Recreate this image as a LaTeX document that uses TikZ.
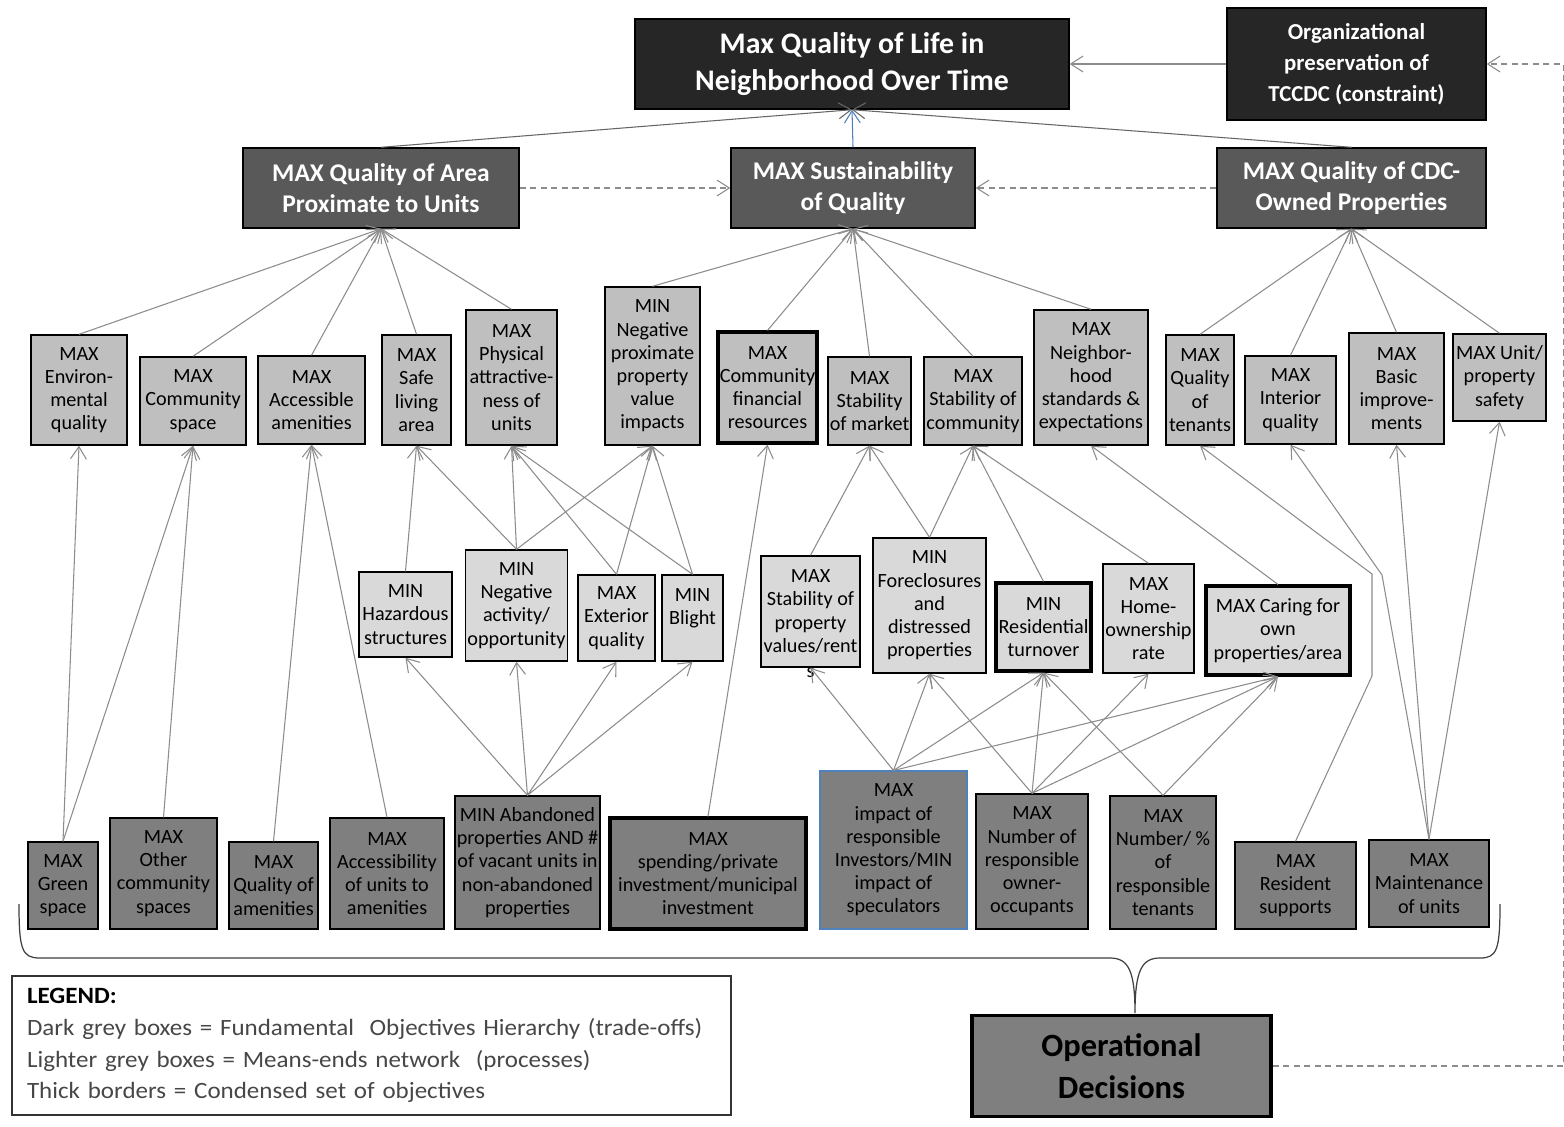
\documentclass[tikz,border=0pt]{standalone}
\usepackage{fontspec}
\setmainfont{Carlito}
\usepackage{xcolor}
\usepackage{tikz}
\usetikzlibrary{arrows.meta}
\definecolor{nearBlack}{HTML}{262626}
\definecolor{darkGrey}{HTML}{595959}
\definecolor{midGrey}{HTML}{BFBFBF}
\definecolor{lightGrey}{HTML}{D9D9D9}
\definecolor{fundGrey}{HTML}{7F7F7F}
\definecolor{linkGrey}{HTML}{8C8C8C}
\definecolor{officeBlue}{HTML}{4F81BD}
\tikzset{wh/.style 2 args={minimum width=#1*0.02cm, minimum height=#2*0.02cm}}
\tikzstyle{anyBox}=[draw, rectangle, align=center, inner sep=1pt, line width=0.8pt, font=\fontsize{11.5}{13.2}\selectfont]
\tikzstyle{objBox}=[anyBox, fill=midGrey]
\tikzstyle{meansBox}=[anyBox, fill=lightGrey]
\tikzstyle{fundBox}=[anyBox, fill=fundGrey]
\tikzstyle{thickBorder}=[line width=1.8pt]
\tikzstyle{topBox}=[draw, rectangle, align=center, inner sep=1pt, fill=nearBlack, text=white, line width=0.8pt, font=\bfseries\fontsize{17}{21.5}\selectfont]
\tikzstyle{midBox}=[draw, rectangle, align=center, inner sep=1pt, fill=darkGrey, text=white, line width=0.8pt, font=\bfseries\fontsize{14.5}{17.6}\selectfont]
\tikzstyle{linkArrow}=[-{Straight Barb[length=7pt,width=9pt]}, draw=linkGrey, line width=0.6pt]
\tikzstyle{dashArrow}=[linkArrow, dash pattern=on 3.5pt off 2.5pt]

\begin{document}
\begin{tikzpicture}[x=0.02cm, y=-0.02cm]

    \useasboundingbox[fill=white] (0,0) rectangle (1564,1126);

    % nodes

    \node[topBox, wh={434}{90}] (top) at (852,64) {Max Quality of Life in\\Neighborhood Over Time};
    \node[topBox, wh={259}{112}, font=\bfseries\fontsize{13}{17.6}\selectfont] (org) at (1356.5,64) {Organizational\\preservation of\\TCCDC (constraint)};

    \node[midBox, wh={276}{80}] (area) at (381,188) {MAX Quality of Area\\Proximate to Units};
    \node[midBox, wh={244}{80}] (sust) at (853,188) {MAX Sustainability\\of Quality};
    \node[midBox, wh={269}{80}] (cdc) at (1351.5,188) {MAX Quality of CDC-\\Owned Properties};

    \node[objBox, wh={96}{110}] (env) at (79,390) {MAX\\Environ-\\mental\\quality};
    \node[objBox, wh={106}{88}] (comm) at (193,401) {MAX\\Community\\space};
    \node[objBox, wh={107}{88}] (acc) at (311.5,400) {MAX\\Accessible\\amenities};
    \node[objBox, wh={69}{110}] (safe) at (416.5,390) {MAX\\Safe\\living\\area};
    \node[objBox, wh={91}{135}] (phys) at (511.5,377.5) {MAX\\Physical\\attractive-\\ness of\\units};
    \node[objBox, wh={95}{158}] (negprox) at (652.5,366) {MIN\\Negative\\proximate\\property\\value\\impacts};
    \node[objBox, thickBorder, wh={97}{111}] (fin) at (767.5,387.5) {MAX\\Community\\financial\\resources};
    \node[objBox, wh={83}{88}] (mkt) at (869.5,401) {MAX\\Stability\\of market};
    \node[objBox, wh={98}{88}] (stabc) at (973,401) {MAX\\Stability of\\community};
    \node[objBox, wh={114}{135}] (nbh) at (1091,377.5) {MAX\\Neighbor-\\hood\\standards \&\\expectations};
    \node[objBox, wh={68}{110}] (ten) at (1200,390) {MAX\\Quality\\of\\tenants};
    \node[objBox, wh={91}{88}] (int) at (1290.5,400) {MAX\\Interior\\quality};
    \node[objBox, wh={95}{111}] (basic) at (1396.5,388.5) {MAX\\Basic\\improve-\\ments};
    \node[objBox, wh={93}{87}] (usafe) at (1499.5,377.5) {MAX Unit/\\property\\safety};

    \node[meansBox, wh={93}{85}] (haz) at (405.5,614.5) {MIN\\Hazardous\\structures};
    \node[meansBox, wh={101}{111}] (nega) at (516.5,605.5) {MIN\\Negative\\activity/\\opportunity};
    \node[meansBox, wh={77}{86}] (ext) at (616.5,618) {MAX\\Exterior\\quality};
    \node[meansBox, wh={61}{86}] (blight) at (692.5,618) {MIN\\Blight\\ };
    \node[meansBox, wh={99}{111}, label={[inner sep=0pt, font=\fontsize{11.5}{13.2}\selectfont]below:s}] (spv) at (810.5,611.5) {MAX\\Stability of\\property\\values/rent};
    \node[meansBox, wh={113}{135}] (fore) at (929.5,605.5) {MIN\\Foreclosures\\and\\distressed\\properties};
    \node[meansBox, thickBorder, wh={95}{88}] (turn) at (1043.5,627) {MIN\\Residential\\turnover};
    \node[meansBox, wh={91}{109}] (home) at (1148.5,618.5) {MAX\\Home-\\ownership\\rate};
    \node[meansBox, thickBorder, wh={144}{89}] (caring) at (1278,630.5) {MAX Caring for\\own\\properties/area};

    \node[fundBox, wh={70}{87}] (green) at (63,885.5) {MAX\\Green\\space};
    \node[fundBox, wh={107}{111}] (other) at (163.5,873.5) {MAX\\Other\\community\\spaces};
    \node[fundBox, wh={89}{87}] (qam) at (273.5,885.5) {MAX\\Quality of\\amenities};
    \node[fundBox, wh={114}{111}] (accu) at (387,873.5) {MAX\\Accessibility\\of units to\\amenities};
    \node[fundBox, wh={145}{133}] (aband) at (527.5,862.5) {MIN Abandoned\\properties AND \#\\of vacant units in\\non-abandoned\\properties};
    \node[fundBox, thickBorder, wh={196}{111}] (spend) at (708,873.5) {MAX\\spending/private\\investment/municipal\\investment};
    \node[fundBox, draw=officeBlue, line width=0.6pt, wh={147}{158}] (invest) at (893.5,850) {MAX\\impact of\\responsible\\Investors/MIN\\impact of\\speculators};
    \node[fundBox, wh={112}{135}] (owner) at (1032,861.5) {MAX\\Number of\\responsible\\owner-\\occupants};
    \node[fundBox, wh={106}{133}] (tenants) at (1163,862.5) {MAX\\Number/ \%\\of\\responsible\\tenants};
    \node[fundBox, wh={121}{87}] (resid) at (1295.5,885.5) {MAX\\Resident\\supports};
    \node[fundBox, wh={120}{87}] (maint) at (1429,883.5) {MAX\\Maintenance\\of units};

    \node[fundBox, thickBorder, wh={299}{101}, font=\bfseries\fontsize{18.5}{24}\selectfont] (oper) at (1121.5,1066) {Operational\\Decisions};

    \node[draw=black!80, line width=0.6pt, wh={719}{139}, text width=13.78cm, align=left, inner sep=0pt, text=black!72, font=\fontsize{13.3}{18.1}\selectfont\addfontfeature{FakeStretch=1.07}] (legend) at (371.5,1045.5) {\textcolor{black}{\bfseries LEGEND:}\\Dark grey boxes = Fundamental\ \ Objectives Hierarchy (trade-offs)\\Lighter grey boxes = Means-ends network\ \ (processes)\\Thick borders = Condensed set of objectives};

    % transition

    \draw[linkArrow, draw=black!60] (area.north) -- (top.south);
    \draw[linkArrow, draw=officeBlue] (sust.north) -- (top.south);
    \draw[linkArrow, draw=black!60] (cdc.north) -- (top.south);
    \draw[linkArrow] (org.west) -- (top.east);
    \draw[dashArrow] (area.east) -- (sust.west);
    \draw[dashArrow] (cdc.west) -- (sust.east);
    \draw[dashArrow] (oper.east) -- ++(291,0) |- (org.east);

    \draw[linkArrow] (env.north) -- (area.south);
    \draw[linkArrow] (comm.north) -- (area.south);
    \draw[linkArrow] (acc.north) -- (area.south);
    \draw[linkArrow] (safe.north) -- (area.south);
    \draw[linkArrow] (phys.north) -- (area.south);
    \draw[linkArrow] (negprox.north) -- (sust.south);
    \draw[linkArrow] (fin.north) -- (sust.south);
    \draw[linkArrow] (mkt.north) -- (sust.south);
    \draw[linkArrow] (stabc.north) -- (sust.south);
    \draw[linkArrow] (nbh.north) -- (sust.south);
    \draw[linkArrow] (ten.north) -- (cdc.south);
    \draw[linkArrow] (int.north) -- (cdc.south);
    \draw[linkArrow] (basic.north) -- (cdc.south);
    \draw[linkArrow] (usafe.north) -- (cdc.south);

    \draw[linkArrow] (green.north) -- (env.south);
    \draw[linkArrow] (green.north) -- (comm.south);
    \draw[linkArrow] (other.north) -- (comm.south);
    \draw[linkArrow] (qam.north) -- (acc.south);
    \draw[linkArrow] (accu.north) -- (acc.south);
    \draw[linkArrow] (spend.north) -- (fin.south);

    \draw[linkArrow] (haz.north) -- (safe.south);
    \draw[linkArrow] (nega.north) -- (safe.south);
    \draw[linkArrow] (nega.north) -- (phys.south);
    \draw[linkArrow] (nega.north) -- (negprox.south);
    \draw[linkArrow] (ext.north) -- (phys.south);
    \draw[linkArrow] (ext.north) -- (negprox.south);
    \draw[linkArrow] (blight.north) -- (phys.south);
    \draw[linkArrow] (blight.north) -- (negprox.south);
    \draw[linkArrow] (spv.north) -- (mkt.south);
    \draw[linkArrow] (fore.north) -- (mkt.south);
    \draw[linkArrow] (fore.north) -- (stabc.south);
    \draw[linkArrow] (turn.north) -- (stabc.south);
    \draw[linkArrow] (home.north) -- (stabc.south);
    \draw[linkArrow] (caring.north) -- (nbh.south);
    \draw[linkArrow] (resid.north) -- (1372,676) -- (1372,574) -- (ten.south);
    \draw[linkArrow] (maint.north) -- (1382,575) -- (int.south);
    \draw[linkArrow] (maint.north) -- (basic.south);
    \draw[linkArrow] (maint.north) -- (usafe.south);

    \draw[linkArrow] (aband.north) -- (haz.south);
    \draw[linkArrow] (aband.north) -- (nega.south);
    \draw[linkArrow] (aband.north) -- (ext.south);
    \draw[linkArrow] (aband.north) -- (blight.south);
    \draw[linkArrow] (invest.north) -- (spv.south);
    \draw[linkArrow] (invest.north) -- (fore.south);
    \draw[linkArrow] (invest.north) -- (turn.south);
    \draw[linkArrow] (invest.north) -- (caring.south);
    \draw[linkArrow] (owner.north) -- (fore.south);
    \draw[linkArrow] (owner.north) -- (turn.south);
    \draw[linkArrow] (owner.north) -- (home.south);
    \draw[linkArrow] (owner.north) -- (caring.south);
    \draw[linkArrow] (tenants.north) -- (turn.south);
    \draw[linkArrow] (tenants.north) -- (caring.south);

    % brace

    \draw[black!75, line width=0.7pt] (19,904) .. controls (19,950) and (22,958) .. (40,958) -- (1110,958) .. controls (1128,958) and (1135,970) .. (1135,1013) .. controls (1135,970) and (1142,958) .. (1160,958) -- (1480,958) .. controls (1497,958) and (1500,950) .. (1500,904);

\end{tikzpicture}
\end{document}
